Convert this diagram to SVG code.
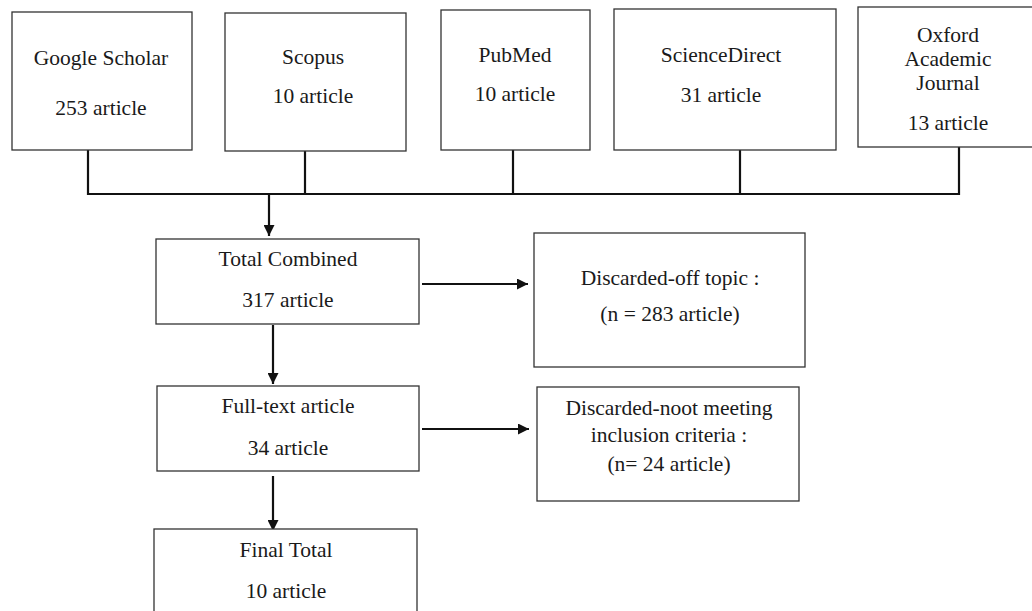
<svg xmlns="http://www.w3.org/2000/svg" width="1032" height="611" viewBox="0 0 1032 611">
<style>
  .box { fill: #fff; stroke: #333; stroke-width: 1.3; }
  .t { font-family: "Liberation Serif", "Times New Roman", serif; font-size: 21.5px; fill: #1a1a1a; text-anchor: middle; }
  .ln { stroke: #111; stroke-width: 2.2; fill: none; }
</style>
<defs>
  <marker id="ah" viewBox="0 0 10 10" refX="10" refY="5" markerWidth="5.5" markerHeight="5" markerUnits="strokeWidth" orient="auto">
    <path d="M0,0 L10,5 L0,10 Z" fill="#111"/>
  </marker>
</defs>
<rect width="1032" height="611" fill="#fff"/>
<g id="connectors">
  <path class="ln" d="M88,150 V194 H959 V147"/>
  <path class="ln" d="M305,151 V194"/>
  <path class="ln" d="M513,150 V194"/>
  <path class="ln" d="M740,150 V194"/>
  <path class="ln" d="M269,194 V236" marker-end="url(#ah)"/>
  <path class="ln" d="M273,325 V384" marker-end="url(#ah)"/>
  <path class="ln" d="M273,476 V531" marker-end="url(#ah)"/>
  <path class="ln" d="M422,284 H528" marker-end="url(#ah)"/>
  <path class="ln" d="M422,429 H529" marker-end="url(#ah)"/>
</g>
<g id="google-scholar">
  <rect class="box" x="12" y="12" width="180" height="138"/>
  <text class="t" x="101" y="65">Google Scholar</text>
  <text class="t" x="101" y="115">253 article</text>
</g>
<g id="scopus">
  <rect class="box" x="225" y="13" width="181" height="138"/>
  <text class="t" x="313" y="64">Scopus</text>
  <text class="t" x="313" y="103">10 article</text>
</g>
<g id="pubmed">
  <rect class="box" x="441" y="10" width="149" height="140"/>
  <text class="t" x="515" y="62">PubMed</text>
  <text class="t" x="515" y="101">10 article</text>
</g>
<g id="sciencedirect">
  <rect class="box" x="614" y="9" width="222" height="141"/>
  <text class="t" x="721" y="62">ScienceDirect</text>
  <text class="t" x="721" y="102">31 article</text>
</g>
<g id="oxford">
  <rect class="box" x="858" y="7" width="180" height="140"/>
  <text class="t" x="948" y="42">Oxford</text>
  <text class="t" x="948" y="66">Academic</text>
  <text class="t" x="948" y="90">Journal</text>
  <text class="t" x="948" y="130">13 article</text>
</g>
<g id="total-combined">
  <rect class="box" x="156" y="239" width="263" height="85"/>
  <text class="t" x="288" y="266">Total Combined</text>
  <text class="t" x="288" y="307">317 article</text>
</g>
<g id="discarded-off-topic">
  <rect class="box" x="534" y="233" width="271" height="134"/>
  <text class="t" x="670" y="285">Discarded-off topic :</text>
  <text class="t" x="670" y="321">(n = 283 article)</text>
</g>
<g id="full-text">
  <rect class="box" x="157" y="386" width="262" height="85"/>
  <text class="t" x="288" y="413">Full-text article</text>
  <text class="t" x="288" y="455">34 article</text>
</g>
<g id="discarded-criteria">
  <rect class="box" x="537" y="387" width="262" height="114"/>
  <text class="t" x="669" y="415">Discarded-noot meeting</text>
  <text class="t" x="669" y="442">inclusion criteria :</text>
  <text class="t" x="669" y="471">(n= 24 article)</text>
</g>
<g id="final-total">
  <rect class="box" x="154" y="529" width="263" height="90"/>
  <text class="t" x="286" y="557">Final Total</text>
  <text class="t" x="286" y="598">10 article</text>
</g>
</svg>
